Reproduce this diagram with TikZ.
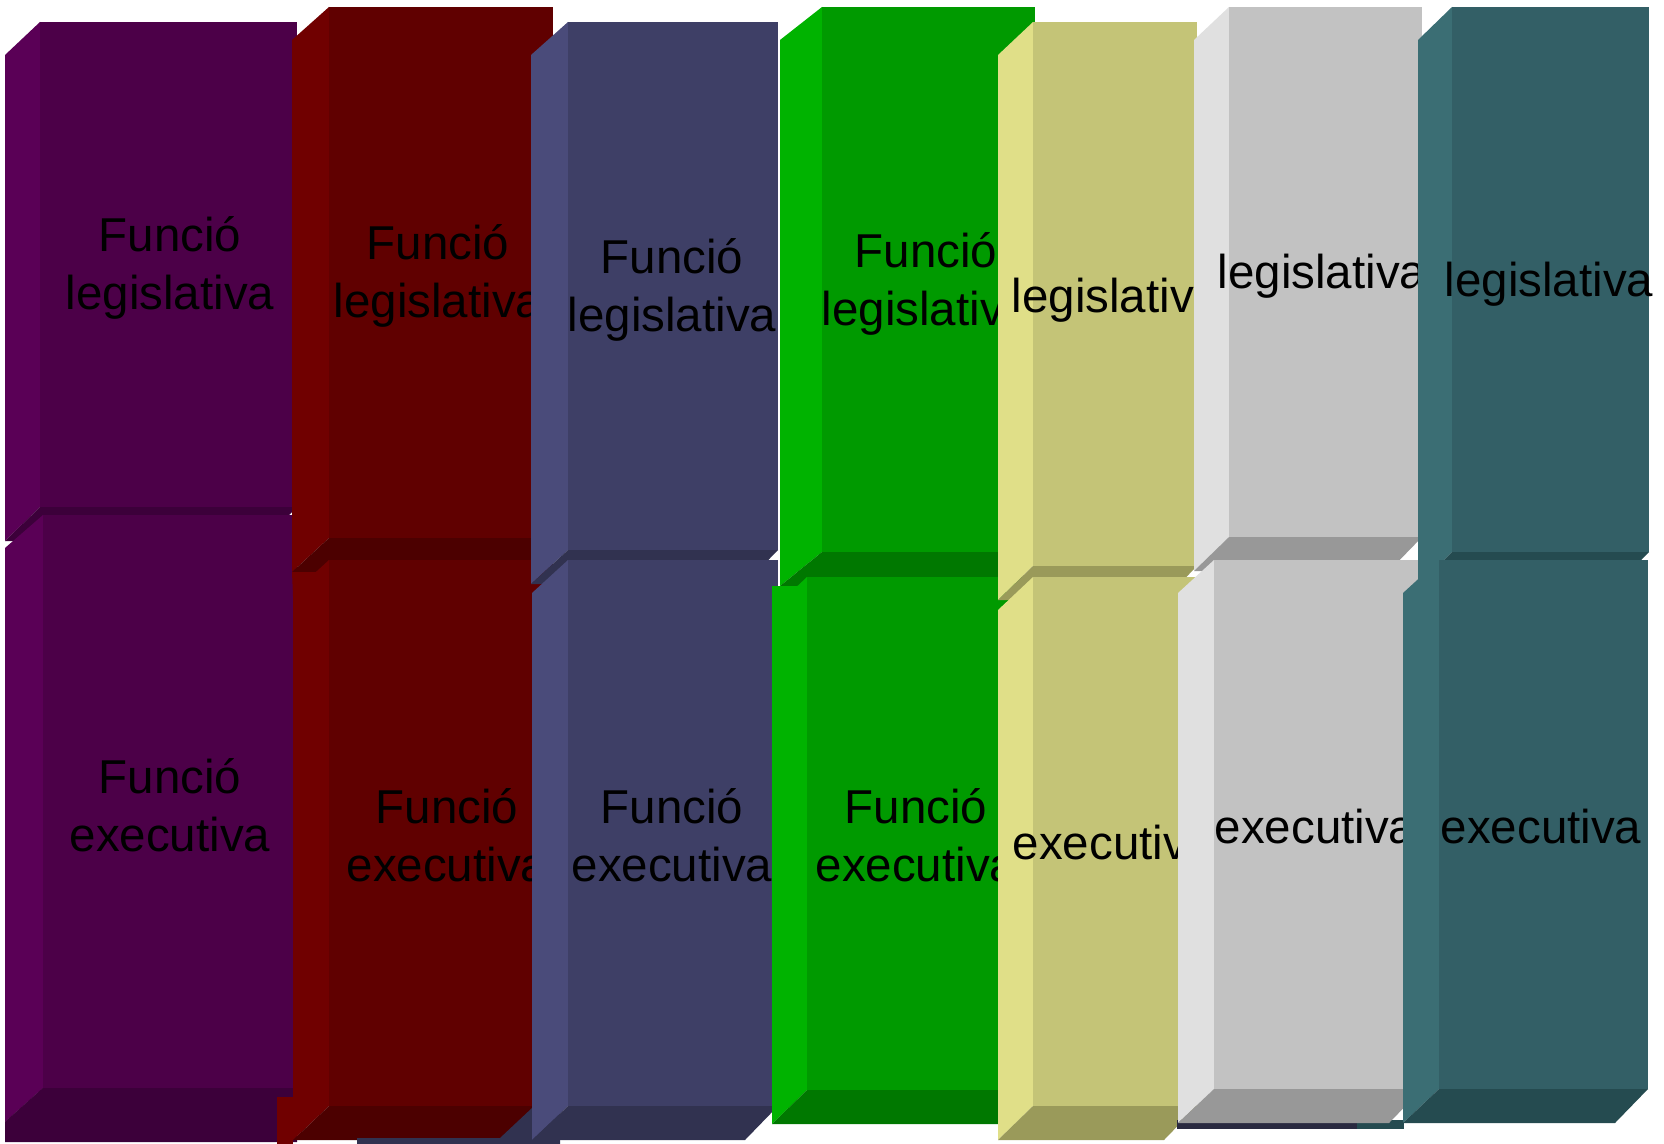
\documentclass[tikz,border=0pt]{standalone}
\usepackage{fontspec}
\setmainfont{Liberation Sans}
\definecolor{purF}{HTML}{4C0048}\definecolor{purS}{HTML}{5A0056}\definecolor{purB}{HTML}{3C003A}
\definecolor{redF}{HTML}{600000}\definecolor{redS}{HTML}{700000}\definecolor{redB}{HTML}{4C0000}
\definecolor{navF}{HTML}{3E3F66}\definecolor{navS}{HTML}{4A4B7A}\definecolor{navB}{HTML}{313250}
\definecolor{grnF}{HTML}{009A00}\definecolor{grnS}{HTML}{00B300}\definecolor{grnB}{HTML}{007800}
\definecolor{khaF}{HTML}{C4C477}\definecolor{khaS}{HTML}{E0DF88}\definecolor{khaB}{HTML}{9A9A5A}
\definecolor{gryF}{HTML}{C2C2C2}\definecolor{gryS}{HTML}{E0E0E0}\definecolor{gryB}{HTML}{989898}
\definecolor{tealF}{HTML}{335F66}\definecolor{tealS}{HTML}{3B6E74}\definecolor{tealB}{HTML}{254B50}
\definecolor{inkB}{HTML}{2A2A40}
% #1 x0, #2 x of front face, #3 x1, #4 top, #5 bottom of front face, #6 colour prefix
\newcommand\bevbox[6]{%
  \fill[#6S] (#1,#4+33) -- (#2,#4) -- (#2,#5) -- (#1,#5+34) -- cycle;
  \fill[#6B] (#1,#5+34) -- (#2,#5) -- (#3,#5) -- (#3-33,#5+34) -- cycle;
  \fill[#6F] (#2,#4) rectangle (#3,#5);
}
\newcommand\twolines[2]{\begin{tabular}[t]{@{}c@{}}#1\\#2\end{tabular}}
\begin{document}
\begin{tikzpicture}[x=0.5pt,y=-0.5pt,
  lbl/.style={font=\fontsize{23.75}{29}\selectfont, inner sep=0pt, anchor=base, text=black}]
\useasboundingbox (0,0) rectangle (1664,1144);
\fill[white] (0,0) rectangle (1664,1144);
% column 1
\bevbox{5}{40}{297}{22}{507}{pur}
\node[lbl] (t1u) at (170,252) {\twolines{Funció}{legislativa}};
\bevbox{5}{43}{297}{515}{1088}{pur}
\fill[purB] (43,1088) -- (297,1088) -- (297,1142) -- (5,1142) -- (5,1122) -- cycle;
\node[lbl] (t1l) at (170,793) {\twolines{Funció}{executiva}};
% column 2
\bevbox{292}{329}{553}{7}{538}{red}
\node[lbl] (t2u) at (438,260) {\twolines{Funció}{legislativa}};
\fill[redS] (292,572) -- (318,572) -- (293,596) -- cycle;
\fill[redS] (277,1097) rectangle (293,1144);
\bevbox{293}{329}{553}{560}{1106}{red}
\node[lbl] (t2l) at (447,823) {\twolines{Funció}{executiva}};
% column 3
\bevbox{531}{568}{778}{22}{550}{nav}
\node[lbl] (t3u) at (672,274) {\twolines{Funció}{legislativa}};
\fill[navB] (357,1138) -- (500,1138) -- (532,1108) -- (560,1108) -- (560,1144) -- (357,1144) -- cycle;
\bevbox{532}{568}{778}{560}{1106}{nav}
\node[lbl] (t3l) at (672,823) {\twolines{Funció}{executiva}};
% column 4
\bevbox{780}{822}{1035}{7}{552}{grn}
\node[lbl] (t4u) at (926,268) {\twolines{Funció}{legislativa}};
\fill[grnS] (772,586) -- (798,586) -- (772,612) -- cycle;
\bevbox{772}{807}{1035}{577}{1090}{grn}
\node[lbl] (t4l) at (916,823) {\twolines{Funció}{executiva}};
% column 5
\bevbox{998}{1033}{1197}{22}{566}{kha}
\node[lbl] (t5u) at (1116,313) {legislativa};
\bevbox{998}{1033}{1197}{577}{1106}{kha}
\node[lbl] (t5l) at (1113,859) {executiva};
% column 6
\fill[inkB] (1177,1120) rectangle (1357,1129);
\fill[tealB] (1357,1120) rectangle (1404,1129);
\bevbox{1194}{1229}{1422}{7}{537}{gry}
\node[lbl] (t6u) at (1322,289) {legislativa};
\bevbox{1178}{1214}{1422}{560}{1089}{gry}
\node[lbl] (t6l) at (1315,843) {executiva};
% column 7
\bevbox{1418}{1452}{1649}{7}{552}{teal}
\node[lbl] (t7u) at (1549,297) {legislativa};
\bevbox{1403}{1439}{1648}{560}{1089}{teal}
\node[lbl] (t7l) at (1541,843) {executiva};
\end{tikzpicture}
\end{document}
